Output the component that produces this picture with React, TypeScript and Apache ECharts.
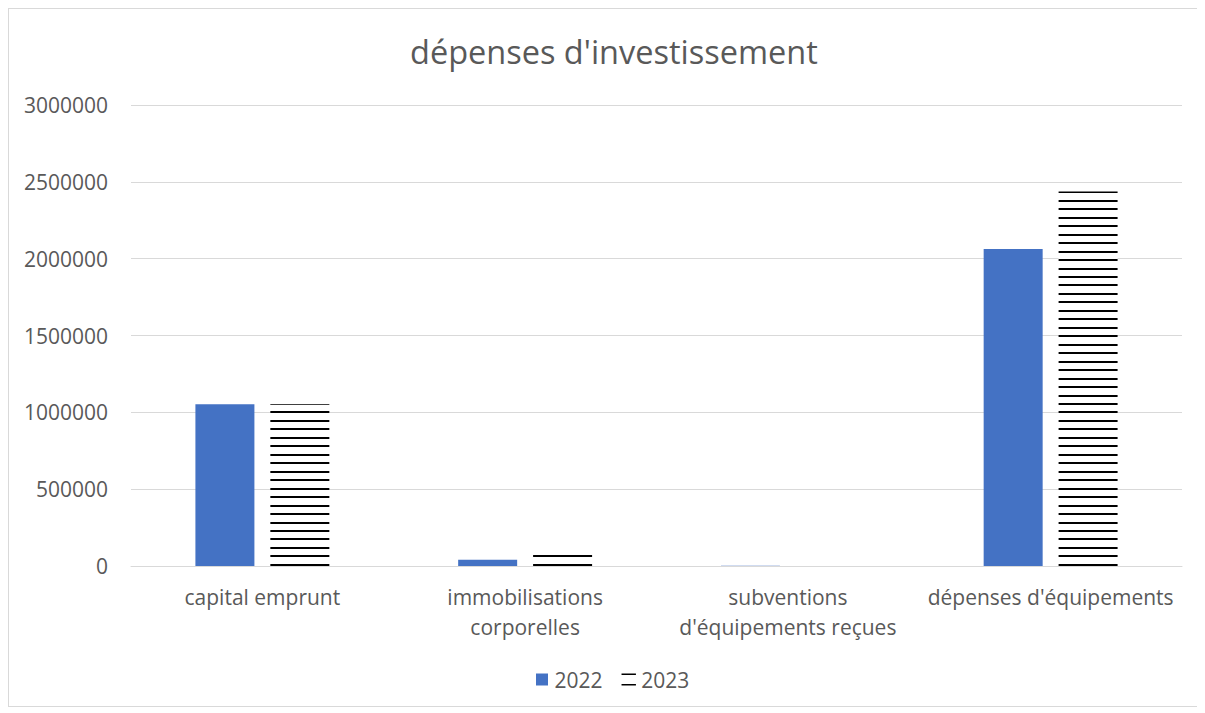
import React, { useEffect, useRef } from "react";
import * as echarts from "echarts";

const categories = [
  "capital emprunt",
  "immobilisations corporelles",
  "subventions d'équipements reçues",
  "dépenses d'équipements",
];
const categoryLabels = [
  "capital emprunt",
  "immobilisations\ncorporelles",
  "subventions\nd'équipements reçues",
  "dépenses d'équipements",
];
const values2022 = [1052000, 41000, 2000, 2063000];
const values2023 = [1052000, 96000, 0, 2437000];
const yTicks = [0, 500000, 1000000, 1500000, 2000000, 2500000, 3000000];

function makePattern() {
  const c = document.createElement("canvas");
  c.width = 4;
  c.height = 254;
  const ctx = c.getContext("2d")!;
  ctx.fillStyle = "#ffffff";
  ctx.fillRect(0, 0, 4, 254);
  ctx.fillStyle = "#000000";
  for (let i = 0; i < 30; i++) {
    const y = Math.round(4.5 + i * 8.4667) % 254;
    ctx.fillRect(0, y, 4, 2);
  }
  return c.toDataURL();
}

export default function App() {
  const ref = useRef<HTMLDivElement>(null);
  useEffect(() => {
    if (!ref.current) return;
    const chart = echarts.init(ref.current, null, { renderer: "svg" });
    const pattern = {
      image: makePattern(),
      repeat: "repeat",
      imageWidth: 4,
      imageHeight: 254,
    };
    const textColor = "#595959";
    const font = "Open Sans";
    chart.setOption({
      animation: false,
      title: {
        text: "dépenses d'investissement",
        left: 396,
        top: 21,
        textStyle: { fontFamily: font, fontSize: 32.5, fontWeight: "normal", color: textColor },
      },
      grid: { left: 122, right: 15, top: 96, bottom: 140, containLabel: false },
      legend: {
        left: 522,
        top: 655,
        itemWidth: 15,
        itemHeight: 12,
        itemGap: 19,
        textStyle: { fontFamily: font, fontSize: 21, color: textColor },
        data: [
          { name: "2022", icon: "path://M0,0H12V12H0Z" },
          {
            name: "2023",
            icon: "path://M0,0H15V1.5H0ZM0,11H15V12.5H0Z",
            itemStyle: { color: "#000000" },
          },
        ],
      },
      xAxis: {
        type: "category",
        data: categories,
        axisLine: { lineStyle: { color: "#d9d9d9", width: 1 } },
        axisTick: { show: false },
        axisLabel: {
          fontFamily: font,
          fontSize: 21,
          color: textColor,
          lineHeight: 30,
          margin: 16,
          interval: 0,
          formatter: (_v: string, i: number) => categoryLabels[i],
        },
      },
      yAxis: {
        type: "value",
        min: 0,
        max: 3000000,
        interval: 500000,
        axisLine: { show: false },
        axisTick: { show: false },
        splitLine: { lineStyle: { color: "#d9d9d9", width: 1 } },
        axisLabel: {
          fontFamily: font,
          fontSize: 21,
          color: textColor,
          margin: 23,
          formatter: (v: number) => (yTicks.includes(v) ? String(v) : ""),
        },
      },
      series: [
        {
          name: "2022",
          type: "bar",
          data: values2022,
          barWidth: 59,
          barGap: "27%",
          itemStyle: { color: "#4472C4" },
        },
        {
          name: "2023",
          type: "bar",
          data: values2023,
          barWidth: 59,
          barGap: "27%",
          itemStyle: { color: pattern },
        },
      ],
    });
    return () => chart.dispose();
  }, []);
  return (
    <div
      ref={ref}
      style={{
        width: 1190,
        height: 699,
        border: "1px solid #d9d9d9",
        boxSizing: "border-box",
      }}
    />
  );
}
